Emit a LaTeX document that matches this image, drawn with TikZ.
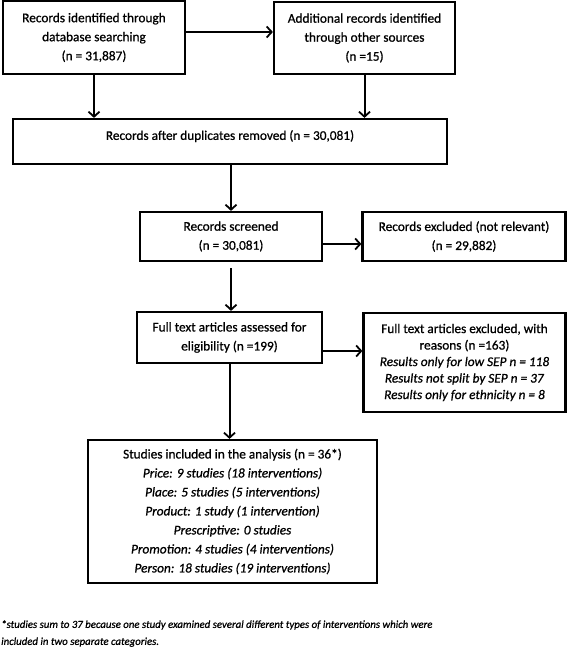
\documentclass[tikz,border=0pt]{standalone}
\usepackage{fontspec}
\setmainfont{Carlito}[FakeBold=0.8]
\usetikzlibrary{arrows.meta}
\begin{document}
\begin{tikzpicture}[x=1pt,y=-1pt,
  box/.style={draw, line width=2.2pt, inner sep=0pt, align=center,
    font=\fontsize{13.3}{19}\selectfont},
  tight/.style={font=\fontsize{13.3}{16.5}\selectfont},
  arr/.style={line width=2pt, -{Straight Barb[length=5pt,width=11pt,line width=1.8pt]}}]
\useasboundingbox (0,0) rectangle (567,649);
\node[box, minimum width=182pt, minimum height=73pt] (b1) at (94,37.5)
  {Records identified through\\database searching\\(n = 31,887)};
\node[box, minimum width=181pt, minimum height=72pt] (b2) at (364.5,38)
  {Additional records identified\\through other sources\\(n =15)};
\node[box, minimum width=434pt, minimum height=45pt] (b3) at (230,141.5)
  {Records after duplicates removed (n = 30,081)\\[-6pt]\mbox{}};
\node[box, minimum width=182pt, minimum height=49pt] (b4) at (231,236.5)
  {Records screened\\(n = 30,081)};
\node[box, minimum width=203pt, minimum height=49pt] (b5) at (464,236.5)
  {Records excluded (not relevant)\\(n = 29,882)};
\node[box, minimum width=185pt, minimum height=51pt] (b6) at (229.5,337.5)
  {Full text articles assessed for\\eligibility (n =199)};
\node[box, tight, minimum width=202pt, minimum height=99pt] (b7) at (464.5,362.5)
  {Full text articles excluded, with\\reasons (n =163)\\
   \textit{Results only for low SEP n = 118}\\
   \textit{Results not split by SEP n = 37}\\
   \textit{Results only for ethnicity n = 8}};
\node[box, minimum width=289pt, minimum height=143pt] (b8) at (232.5,511.5)
  {Studies included in the analysis (n = 36*)\\
   \textit{Price: 9 studies (18 interventions)}\\
   \textit{Place: 5 studies (5 interventions)}\\
   \textit{Product: 1 study (1 intervention)}\\
   \textit{Prescriptive: 0 studies}\\
   \textit{Promotion: 4 studies (4 interventions)}\\
   \textit{Person: 18 studies (19 interventions)}};
\node[anchor=west, align=left, inner sep=0pt,
  font=\itshape\fontsize{10.8}{17}\selectfont] (fn) at (1,633.5)
  {*studies sum to 37 because one study examined several different types of interventions which were\\
   included in two separate categories.};
\draw[arr] ([yshift=5.5pt]b1.east) -- ([yshift=5.5pt]b1.east -| b2.west);
\draw[arr] (b1.south) -- (b1.south |- b3.north);
\draw[arr] (b2.south) -- (b2.south |- b3.north);
\draw[arr] (b4.north |- b3.south) -- (b4.north);
\draw[arr] ([yshift=-7.5pt]b4.east) -- ([yshift=-7.5pt]b4.east -| b5.west);
\draw[arr] ([yshift=-6pt]b4.south) -- (b4.south |- b6.north);
\draw[arr] ([yshift=-13.5pt]b6.east) -- ([yshift=-13.5pt]b6.east -| b7.west);
\draw[arr] (b6.south) -- (b6.south |- b8.north);
\end{tikzpicture}
\end{document}
